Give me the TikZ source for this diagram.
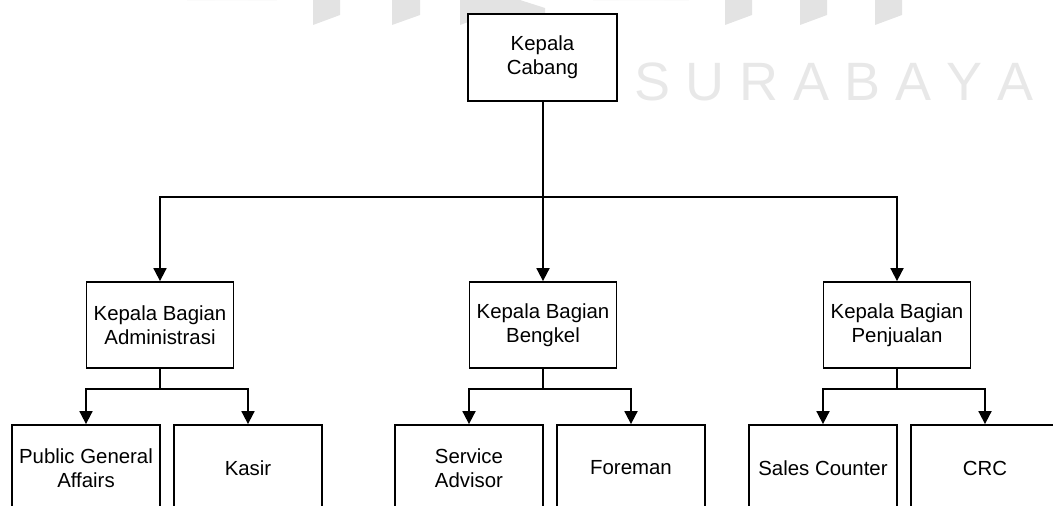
\documentclass[tikz,border=0pt]{standalone}
\usepackage{fontspec}
\setmainfont{Liberation Sans}
\usetikzlibrary{arrows.meta}
\tikzset{
  box/.style={draw=black, line width=1.8pt, fill=white, rectangle, align=center,
    minimum width=147pt, minimum height=86pt, inner sep=0pt,
    font=\fontsize{20.4pt}{24pt}\selectfont},
  link/.style={draw=black, line width=1.8pt},
  arr/.style={link, -{Triangle[width=13pt,length=13pt]}},
  wm/.style={fill=black!11, draw=none}
}
\begin{document}
\begin{tikzpicture}[x=1pt,y=-1pt]
\useasboundingbox (0,0) rectangle (1053,506);
\begin{scope}
\clip (0,0) rectangle (1053,506);
% watermark
\fill[wm] (187,0) arc[start angle=180,end angle=360,x radius=45,y radius=28] -- cycle;
\fill[white] (215,0) arc[start angle=180,end angle=360,x radius=16,y radius=6] -- cycle;
\fill[wm] (313,0) -- (340,0) -- (340,15) -- (313,25) -- cycle;
\fill[wm] (392,0) -- (420,0) -- (420,15) -- (392,25) -- cycle;
\fill[wm] (460,0) -- (487,0) -- (487,15) -- (460,25) -- cycle;
\fill[wm] (487,0) -- (520,0) -- (545,8) -- (545,15) -- (487,15) -- cycle;
\fill[wm] (593,0) arc[start angle=180,end angle=360,x radius=48,y radius=28] -- cycle;
\fill[white] (619,0) arc[start angle=180,end angle=360,x radius=22,y radius=10] -- cycle;
\fill[wm] (725,0) -- (752,0) -- (752,15) -- (725,25) -- cycle;
\fill[wm] (800,0) -- (827,0) -- (827,15) -- (800,25) -- cycle;
\fill[wm] (875,0) -- (902,0) -- (902,15) -- (875,25) -- cycle;
\node[text=black!9, anchor=base west, inner sep=0pt,
  font=\fontsize{54pt}{54pt}\selectfont] (wmtext) at (634,100) {S U R A B A Y A};

% nodes
\node[box, minimum width=149pt, minimum height=87pt] (kc) at (542.5,57.5) {Kepala\\Cabang};
\node[box] (kba) at (160,325) {Kepala Bagian\\Administrasi};
\node[box] (kbb) at (543,325) {Kepala Bagian\\Bengkel};
\node[box] (kbp) at (897,325) {Kepala Bagian\\Penjualan};
\node[box, minimum width=148pt] (pga) at (86,468) {Public General\\Affairs};
\node[box, minimum width=148pt] (ksr) at (248,468) {Kasir};
\node[box, minimum width=148pt] (sa) at (469,468) {Service\\Advisor};
\node[box, minimum width=148pt] (frm) at (631,468) {Foreman};
\node[box, minimum width=148pt] (sc) at (823,468) {Sales Counter};
\node[box, minimum width=148pt] (crc) at (985,468) {CRC};

% connectors
\coordinate (bus1) at (543,197);
\coordinate (busa) at (160,389);
\coordinate (busb) at (543,389);
\coordinate (busp) at (897,389);
\draw[link] (kc.south -| bus1) -- (bus1);
\draw[arr] (bus1) -| (kba.north);
\draw[arr] (bus1) -- (kbb.north);
\draw[arr] (bus1) -| (kbp.north);
\draw[link] (kba.south) -- (busa);
\draw[arr] (busa) -| (pga.north);
\draw[arr] (busa) -| (ksr.north);
\draw[link] (kbb.south) -- (busb);
\draw[arr] (busb) -| (sa.north);
\draw[arr] (busb) -| (frm.north);
\draw[link] (kbp.south) -- (busp);
\draw[arr] (busp) -| (sc.north);
\draw[arr] (busp) -| (crc.north);
\end{scope}
\end{tikzpicture}
\end{document}
